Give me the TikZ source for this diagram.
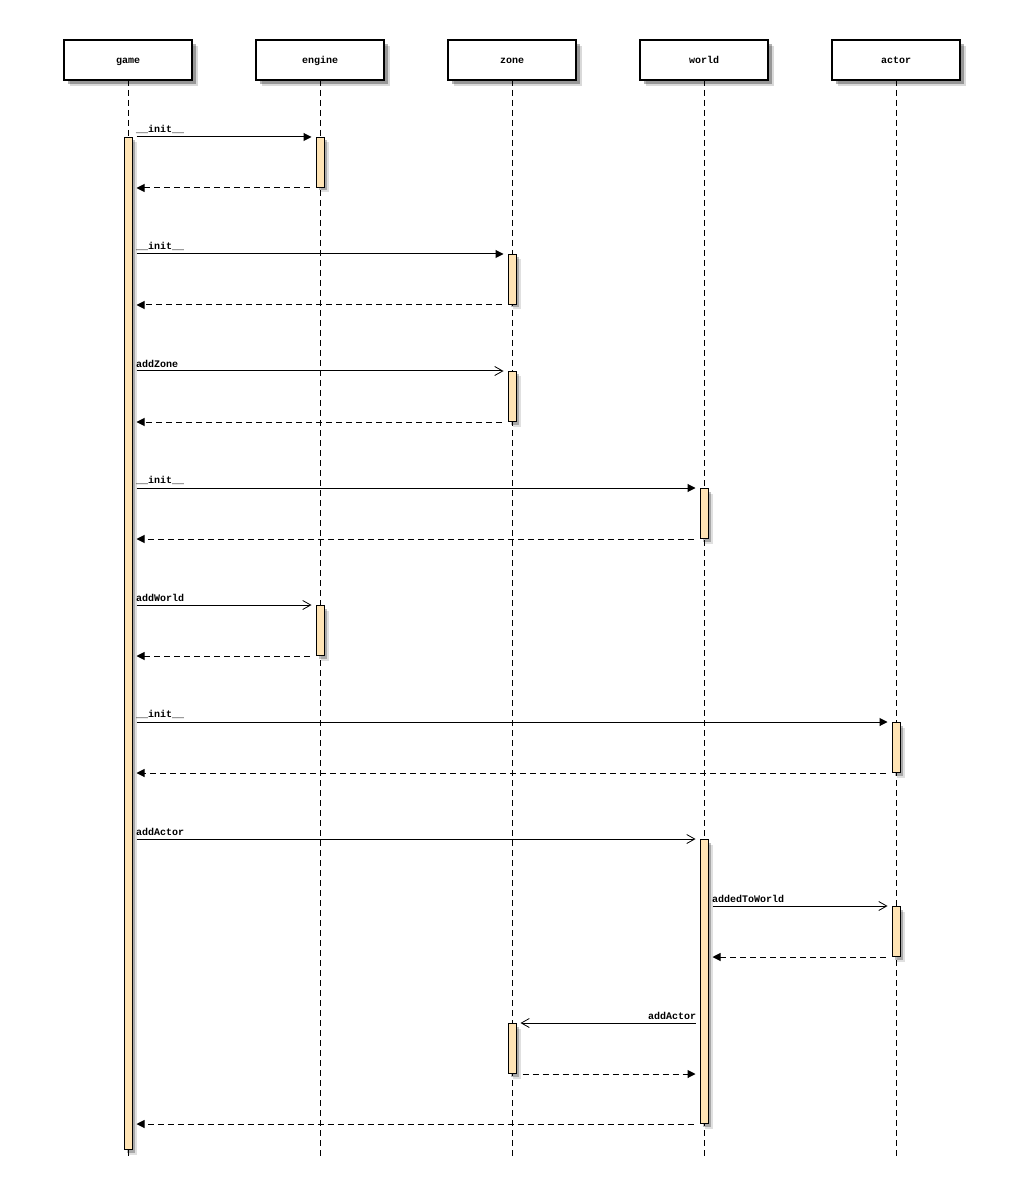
\documentclass[tikz,border=0pt]{standalone}
\usepackage{fontspec}
\setmonofont{Liberation Mono}
\usetikzlibrary{arrows.meta}
\usetikzlibrary{shadows}
\definecolor{actfill}{RGB}{255,228,181}

\begin{document}
\begin{tikzpicture}[x=0.5pt,y=-0.5pt,
    lbl/.style={font=\ttfamily\bfseries\fontsize{5}{6}\selectfont,inner sep=1.5pt},
    obj/.style={draw,line width=0.6pt,fill=white,minimum width=64pt,minimum height=20pt,
        text height=4pt,text depth=0pt,
        font=\ttfamily\bfseries\fontsize{5}{6}\selectfont,
        drop shadow={shadow xshift=3pt,shadow yshift=-3pt,fill=black,opacity=0.15},
        drop shadow={shadow xshift=2pt,shadow yshift=-2pt,fill=black,opacity=0.3}},
    act/.style={draw,line width=0.5pt,fill=actfill,minimum width=4pt,inner sep=0pt,anchor=north,
        drop shadow={shadow xshift=2.5pt,shadow yshift=-2.5pt,fill=black,opacity=0.12},
        drop shadow={shadow xshift=1.5pt,shadow yshift=-1.5pt,fill=black,opacity=0.25}},
    life/.style={line width=0.5pt,dash pattern=on 3pt off 2pt},
    call/.style={line width=0.5pt,shorten <=2pt,shorten >=2pt,-{Triangle[length=4pt,width=4pt]}},
    async/.style={line width=0.5pt,shorten <=2pt,shorten >=2pt,-{Straight Barb[length=4pt,width=4.5pt,line width=0.4pt]}},
    ret/.style={line width=0.5pt,shorten <=3pt,shorten >=2pt,dash pattern=on 3pt off 2pt,-{Triangle[length=4pt,width=4pt]}}]
                \useasboundingbox (0,0) rectangle (1024,1197);

                % lifelines
                \coordinate (game) at (128,60);
                \coordinate (engine) at (320,60);
                \coordinate (zone) at (512,60);
                \coordinate (world) at (704,60);
                \coordinate (actor) at (896,60);
                \foreach \o in {game,engine,zone,world,actor}
                    \draw[life] (\o) -- (\o |- 0,1157);

                % activation bars
                \node[act,minimum height=506pt] (gbar) at (128,137) {};
                \node[act,minimum height=25pt] (ebar1) at (320,137) {};
                \node[act,minimum height=25pt] (zbar1) at (512,254) {};
                \node[act,minimum height=25pt] (zbar2) at (512,371) {};
                \node[act,minimum height=25pt] (wbar1) at (704,488) {};
                \node[act,minimum height=25pt] (ebar2) at (320,605) {};
                \node[act,minimum height=25pt] (abar1) at (896,722) {};
                \node[act,minimum height=142pt] (wbar2) at (704,839) {};
                \node[act,minimum height=25pt] (abar2) at (896,906) {};
                \node[act,minimum height=25pt] (zbar3) at (512,1023) {};

                % heads
                \node[obj] (gamebox) at (game) {game};
                \node[obj] (enginebox) at (engine) {engine};
                \node[obj] (zonebox) at (zone) {zone};
                \node[obj] (worldbox) at (world) {world};
                \node[obj] (actorbox) at (actor) {actor};

                % messages
                \draw[call](gbar.east |- ebar1.north)--node[lbl,pos=0,above right]{\_\_init\_\_}(ebar1.north west);
                \draw[ret](ebar1.south west)--(gbar.east |- ebar1.south);
                \draw[call](gbar.east |- zbar1.north)--node[lbl,pos=0,above right]{\_\_init\_\_}(zbar1.north west);
                \draw[ret](zbar1.south west)--(gbar.east |- zbar1.south);
                \draw[async](gbar.east |- zbar2.north)--node[lbl,pos=0,above right]{addZone}(zbar2.north west);
                \draw[ret](zbar2.south west)--(gbar.east |- zbar2.south);
                \draw[call](gbar.east |- wbar1.north)--node[lbl,pos=0,above right]{\_\_init\_\_}(wbar1.north west);
                \draw[ret](wbar1.south west)--(gbar.east |- wbar1.south);
                \draw[async](gbar.east |- ebar2.north)--node[lbl,pos=0,above right]{addWorld}(ebar2.north west);
                \draw[ret](ebar2.south west)--(gbar.east |- ebar2.south);
                \draw[call](gbar.east |- abar1.north)--node[lbl,pos=0,above right]{\_\_init\_\_}(abar1.north west);
                \draw[ret](abar1.south west)--(gbar.east |- abar1.south);
                \draw[async](gbar.east |- wbar2.north)--node[lbl,pos=0,above right]{addActor}(wbar2.north west);
                \draw[async](wbar2.east |- abar2.north)--node[lbl,pos=0,above right]{addedToWorld}(abar2.north west);
                \draw[ret](abar2.south west)--(wbar2.east |- abar2.south);
                \draw[async](wbar2.west |- zbar3.north)--node[lbl,pos=0,above left]{addActor}(zbar3.north east);
                \draw[ret](zbar3.south east)--(wbar2.west |- zbar3.south);
                \draw[ret](wbar2.south west)--(gbar.east |- wbar2.south);

            \end{tikzpicture}
\end{document}
